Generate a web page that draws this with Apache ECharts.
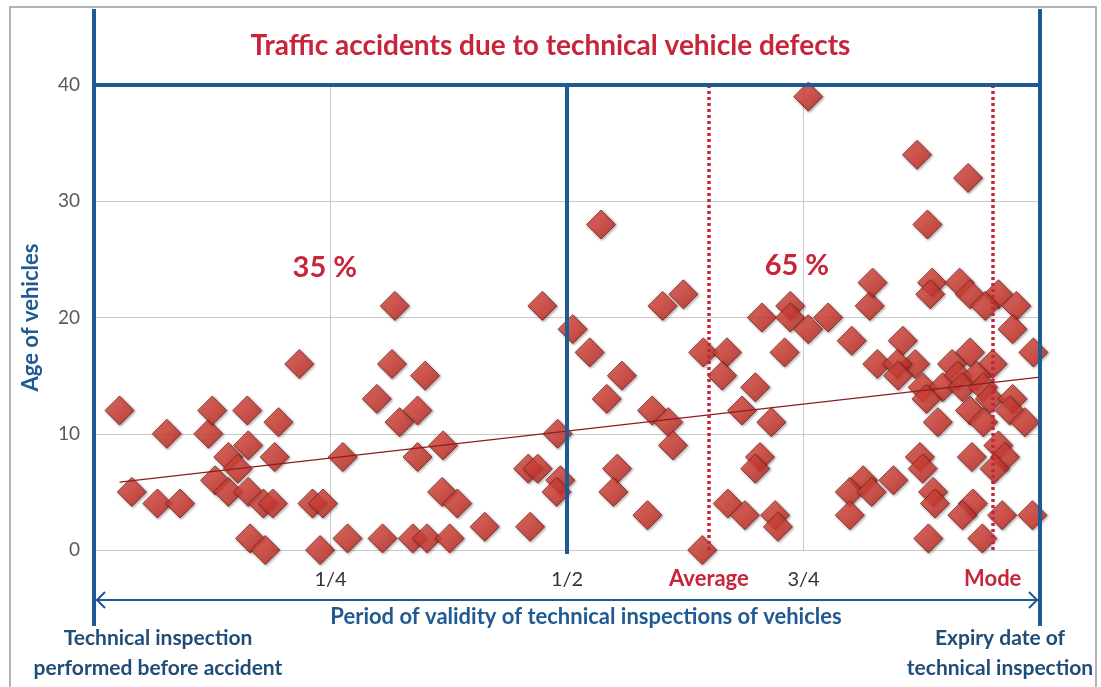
<!DOCTYPE html>
<html>
<head>
<meta charset="utf-8">
<script src="https://cdn.jsdelivr.net/npm/echarts@6/dist/echarts.min.js"></script>
<style>
html, body { margin: 0; background: #fff; }
#main { width: 1101px; height: 687px; }
</style>
</head>
<body>
<div id="main"></div>
<script>
// share of the validity period elapsed at the time of the accident (0 = inspection, 1 = expiry)
var period = [
    0.027, 0.040, 0.067, 0.091, 0.077, 0.121, 0.125, 0.162, 0.195, 0.163, 0.142, 0.191,
    0.152, 0.128, 0.142, 0.163, 0.179, 0.189, 0.231, 0.242, 0.165, 0.181, 0.239, 0.263,
    0.268, 0.305, 0.217, 0.318, 0.315, 0.299, 0.323, 0.342, 0.342, 0.350, 0.369, 0.368,
    0.384, 0.337, 0.352, 0.376, 0.413, 0.461, 0.474, 0.459, 0.469, 0.493, 0.489, 0.490,
    0.506, 0.524, 0.536, 0.558, 0.542, 0.553, 0.549, 0.585, 0.601, 0.623, 0.590, 0.607,
    0.612, 0.644, 0.643, 0.669, 0.664, 0.699, 0.685, 0.716, 0.704, 0.699, 0.670, 0.688,
    0.720, 0.723, 0.706, 0.736, 0.736, 0.755, 0.776, 0.755, 0.730, 0.801, 0.820, 0.823,
    0.828, 0.813, 0.799, 0.822, 0.799, 0.845, 0.870, 0.924, 0.881, 0.886, 0.884, 0.915,
    0.926, 0.956, 0.942, 0.975, 0.971, 0.855, 0.993, 0.926, 0.950, 0.907, 0.868, 0.849,
    0.850, 0.876, 0.913, 0.933, 0.897, 0.918, 0.940, 0.880, 0.926, 0.947, 0.971, 0.968,
    0.940, 0.984, 0.892, 0.956, 0.873, 0.928, 0.963, 0.876, 0.952, 0.887, 0.889, 0.929,
    0.918, 0.960, 0.992, 0.882, 0.939
];
// age of the vehicle (years)
var age = [
    12, 5, 4, 4, 10, 10, 12, 12, 11, 9, 8, 8,
    7, 6, 5, 5, 4, 4, 4, 4, 1, 0, 0, 8,
    1, 1, 16, 21, 16, 13, 11, 12, 8, 15, 9, 5,
    4, 1, 1, 1, 2, 2, 21, 7, 7, 6, 5, 10,
    19, 17, 28, 15, 13, 7, 5, 3, 21, 22, 12, 11,
    9, 17, 0, 17, 15, 14, 12, 11, 8, 7, 4, 3,
    3, 2, 20, 21, 20, 19, 20, 39, 17, 18, 21, 23,
    16, 6, 5, 5, 3, 6, 34, 32, 28, 23, 22, 23,
    22, 22, 21, 21, 19, 18, 17, 17, 16, 16, 16, 16,
    15, 14, 15, 15, 14, 14, 14, 13, 12, 13, 13, 12,
    11, 11, 11, 9, 8, 8, 8, 7, 7, 5, 4, 4,
    3, 3, 3, 1, 1
];

var tickValues = [0.25, 0.5, 0.75];
var tickLabels = ['1/4', '1/2', '3/4'];
var averageAt = 0.649;
var modeAt = 0.949;
var shareLabels = ['35 %', '65 %'];
var sharePos = [[0.244, 24.3], [0.743, 24.5]];

var blue = '#1f5a92';
var red = '#c8253a';

var chart = echarts.init(document.getElementById('main'));

var points = period.map(function (p, i) { return [p, age[i]]; });

// linear trend (least squares)
var n = period.length, sx = 0, sy = 0, sxx = 0, sxy = 0;
for (var i = 0; i < n; i++) {
    sx += period[i]; sy += age[i];
    sxx += period[i] * period[i]; sxy += period[i] * age[i];
}
var slope = (n * sxy - sx * sy) / (n * sxx - sx * sx);
var icept = (sy - slope * sx) / n;
var x0 = Math.min.apply(null, period), x1 = 1;
var trend = [[x0, icept + slope * x0], [x1, icept + slope * x1]];

var option = {
    animation: false,
    title: {
        text: 'Traffic accidents due to technical vehicle defects',
        left: 'center',
        top: 27,
        textStyle: { color: red, fontFamily: 'Lato', fontWeight: 'bold', fontSize: 28 }
    },
    grid: { left: 94, right: 61, top: 85, bottom: 137 },
    xAxis: {
        type: 'value', min: 0, max: 1, interval: 0.25,
        name: 'Period of validity of technical inspections of vehicles',
        nameLocation: 'middle', nameGap: 56,
        nameTextStyle: { color: blue, fontFamily: 'Lato', fontWeight: 'bold', fontSize: 22, padding: [0, 0, 0, 38] },
        axisLine: { show: false }, axisTick: { show: false },
        axisLabel: {
            margin: 20, color: '#333', fontFamily: 'Lato', fontSize: 20,
            formatter: function (v) {
                var k = tickValues.indexOf(v);
                return k < 0 ? '' : tickLabels[k];
            }
        },
        splitLine: { lineStyle: { color: '#c9c9c9', width: 1 } }
    },
    yAxis: {
        type: 'value', min: 0, max: 40, interval: 10,
        name: 'Age of vehicles', nameLocation: 'middle', nameGap: 52,
        nameTextStyle: { color: blue, fontFamily: 'Lato', fontWeight: 'bold', fontSize: 22 },
        axisLine: { show: false }, axisTick: { show: false },
        axisLabel: { margin: 14, color: '#595959', fontFamily: 'Lato', fontSize: 19 },
        splitLine: { lineStyle: { color: '#c9c9c9', width: 1 } }
    },
    series: [
        {
            type: 'scatter',
            symbol: 'diamond',
            symbolSize: 29,
            data: points,
            z: 3,
            itemStyle: {
                color: new echarts.graphic.LinearGradient(0, 0, 1, 1, [
                    { offset: 0, color: '#ee5a4e' },
                    { offset: 1, color: '#b9231c' }
                ]),
                borderColor: '#7d1d19', borderWidth: 1,
                shadowBlur: 3, shadowOffsetX: 1, shadowOffsetY: 1,
                shadowColor: 'rgba(0,0,0,0.45)'
            },
            markLine: {
                silent: true,
                symbol: 'none',
                lineStyle: { color: red, type: [3, 3], width: 3.5, cap: 'butt' },
                label: {
                    position: 'start', distance: 18, color: red,
                    fontFamily: 'Lato', fontWeight: 'bold', fontSize: 22
                },
                data: [
                    { xAxis: averageAt, label: { formatter: 'Average' } },
                    { xAxis: modeAt, label: { formatter: 'Mode' } }
                ]
            }
        },
        {
            type: 'line',
            data: trend,
            symbol: 'none',
            z: 4,
            lineStyle: { color: '#8e1c1c', width: 1.2 }
        }
    ]
};
chart.setOption(option);

// frame, arrows and annotations placed on the grid's pixel positions
var tl = chart.convertToPixel({ gridIndex: 0 }, [0, 40]);
var br = chart.convertToPixel({ gridIndex: 0 }, [1, 0]);
var mid = chart.convertToPixel({ gridIndex: 0 }, [0.5, 0]);
var arrowY = 600;

var g = [
    { type: 'rect', z: 0, shape: { x: 10, y: 7, width: 1086, height: 700 },
      style: { fill: null, stroke: '#9a9a9a', lineWidth: 1.5 } },
    { type: 'line', z: 10, shape: { x1: tl[0], y1: 9, x2: tl[0], y2: 626 }, style: { stroke: blue, lineWidth: 4 } },
    { type: 'line', z: 10, shape: { x1: br[0], y1: 9, x2: br[0], y2: 626 }, style: { stroke: blue, lineWidth: 4 } },
    { type: 'line', z: 10, shape: { x1: tl[0], y1: tl[1], x2: br[0], y2: tl[1] }, style: { stroke: blue, lineWidth: 4 } },
    { type: 'line', z: 10, shape: { x1: mid[0], y1: tl[1], x2: mid[0], y2: br[1] + 4 }, style: { stroke: blue, lineWidth: 4 } },
    { type: 'line', z: 10, shape: { x1: tl[0] + 2, y1: arrowY, x2: br[0] - 2, y2: arrowY }, style: { stroke: blue, lineWidth: 2 } },
    { type: 'polyline', z: 10, shape: { points: [[tl[0] + 11, arrowY - 8], [tl[0] + 3, arrowY], [tl[0] + 11, arrowY + 8]] },
      style: { stroke: blue, lineWidth: 2, fill: null } },
    { type: 'polyline', z: 10, shape: { points: [[br[0] - 11, arrowY - 8], [br[0] - 3, arrowY], [br[0] - 11, arrowY + 8]] },
      style: { stroke: blue, lineWidth: 2, fill: null } },
    { type: 'text', z: 10, x: 158, y: 653,
      style: { text: 'Technical inspection\nperformed before accident', fill: '#1f4d78', align: 'center', verticalAlign: 'middle',
               font: 'bold 21px Lato', lineHeight: 30 } },
    { type: 'text', z: 10, x: 1000, y: 653,
      style: { text: 'Expiry date of\ntechnical inspection', fill: '#1f4d78', align: 'center', verticalAlign: 'middle',
               font: 'bold 21px Lato', lineHeight: 30 } }
];
sharePos.forEach(function (p, k) {
    var c = chart.convertToPixel({ gridIndex: 0 }, p);
    g.push({ type: 'text', z: 10, x: c[0], y: c[1],
             style: { text: shareLabels[k], fill: red, align: 'center', verticalAlign: 'middle', font: 'bold 29px Lato' } });
});
chart.setOption({ graphic: g });
</script>
</body>
</html>
